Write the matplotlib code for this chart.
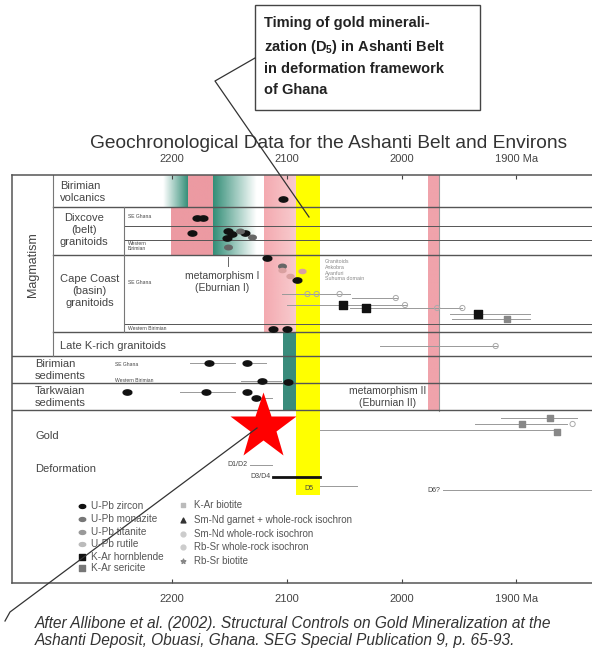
import matplotlib
matplotlib.use('Agg')
import matplotlib.pyplot as plt
import numpy as np
from matplotlib.patches import Rectangle
from matplotlib.colors import to_rgb

plt.rcParams['font.family'] = ['Liberation Sans', 'DejaVu Sans']
plt.rcParams['mathtext.fontset'] = 'custom'
plt.rcParams['mathtext.rm'] = 'Liberation Sans'
plt.rcParams['mathtext.bf'] = 'Liberation Sans:bold'

# age axis (Ma)
ticks = [2200, 2100, 2000, 1900]
tick_labels = ['2200', '2100', '2000', '1900 Ma']

# row separators: position below frame top, left end in Ma
sep_rows = [32, 51, 65, 80, 149, 157, 181, 208, 235]
sep_from = [2304, 2242, 2242, 2304, 2242, 2304, 2340, 2340, 2340]

# U-Pb zircon ages
zircon_age = [2103, 2178, 2173, 2183, 2151, 2148, 2136, 2152, 2117, 2091,
              2112, 2100, 2168, 2135, 2122, 2099, 2239, 2170, 2135, 2127]
zircon_row = [24, 43, 43, 58, 56, 59, 58, 63, 83, 105,
              154, 154, 188, 188, 206, 207, 217, 217, 217, 223]

# U-Pb monazite / titanite ages
monazite_age = [2141, 2104, 2151, 2130]
monazite_row = [56, 91, 72, 62]
titanite_age = [2104, 2087, 2097]
titanite_row = [95, 96, 101]

# K-Ar hornblende and sericite ages
hbl_age = [2051, 2031, 1933]
hbl_row = [130, 133, 139]
ser_age = [1908, 1871, 1895, 1865]
ser_row = [144, 243, 249, 257]

# whole-rock isochrons
iso_age = [2082, 2074, 2054, 2005, 1997, 1969, 1947, 1918, 1851]
iso_row = [119, 119, 119, 123, 130, 133, 133, 171, 249]

# error ranges: row, older limit, younger limit
err_row = [119, 123, 130, 133, 139, 144, 171, 188, 188, 206, 217, 223, 243, 249, 255]
err_old = [2104, 2043, 2100, 2045, 1958, 1956, 2019, 2184, 2135, 2140, 2193, 2127, 1913, 1936, 2071]
err_young = [2045, 2004, 1995, 1947, 1888, 1888, 1917, 2145, 2118, 2105, 2145, 2113, 1847, 1856, 1868]

# deformation events
def_labels = ['D1/D2', 'D3/D4', 'D5', 'D6?']
def_old = [2132, 2112, 2071, 1964]
def_young = [2113, 2071, 2039, 1834]
def_row = [290, 302, 311, 315]

# age of gold mineralization marker
gold_age = 2121

W, H = 592, 654
fig = plt.figure(figsize=(W / 100, H / 100), dpi=100)
ax = fig.add_axes([12 / W, 1 - 583 / H, 1 - 12 / W, (583 - 175) / H])
ax.set_xlim(2339.4, 1834.1)
ax.set_ylim(408, 0)


def shade(old, young, top, bottom, color, fade=None, strength=1.0):
    rgb = np.array(to_rgb(color))
    n = 64
    alpha = np.full(n, strength)
    if fade == 'left':
        alpha = np.linspace(0, strength, n)
    elif fade == 'right':
        alpha = np.linspace(strength, 0, n)
    img = np.zeros((1, n, 4))
    img[0, :, :3] = rgb
    img[0, :, 3] = alpha
    ax.imshow(img, extent=(old, young, bottom, top), aspect='auto',
              interpolation='bilinear', zorder=1)


shade(2208, 2186, 0, 32, '#2e8b74', fade='left')
shade(2165, 2126, 0, 81, '#2e8b74', fade='right')
shade(2186, 2165, 0, 81, '#ec9aa2')
shade(2201, 2186, 32, 81, '#ec9aa2')
shade(2120, 2092, 0, 158, '#f4aab0', fade='right', strength=1.0)
shade(2120, 2092, 0, 158, '#f4aab0', strength=0.6)
shade(2103, 2092, 158, 236, '#3a8c7c')
shade(1977, 1967, 0, 236, '#f0a3ab')
ax.add_patch(Rectangle((2071, 0), 21, 320, facecolor='#ffff00',
                       edgecolor='none', zorder=1.5))
ax.plot([1967, 1967], [0, 236], color='#999999', lw=0.8, zorder=2)

for r, a0 in zip(sep_rows, sep_from):
    lw = 1.0 if a0 > 2300 else 0.7
    ax.plot([a0, 1834.1], [r, r], color='#555555', lw=lw, zorder=2)
ax.plot([2304, 2304], [0, 181], color='#777777', lw=0.8, zorder=2)
ax.plot([2242, 2242], [32, 157], color='#777777', lw=0.8, zorder=2)

for r, a0, a1 in zip(err_row, err_old, err_young):
    ax.plot([a0, a1], [r, r], color='#999999', lw=0.7, zorder=3)

ell = np.c_[np.cos(np.linspace(0, 2 * np.pi, 30)),
            0.6 * np.sin(np.linspace(0, 2 * np.pi, 30))]
ax.scatter(zircon_age, zircon_row, marker=ell, s=40, color='#111111', zorder=4)
ax.scatter(monazite_age, monazite_row, marker=ell, s=30, color='#666666', zorder=4)
ax.scatter(titanite_age, titanite_row, marker=ell, s=25, color='#d9a0a0', zorder=4)
ax.scatter(hbl_age, hbl_row, marker='s', s=30, color='#111111', zorder=4)
ax.scatter(ser_age, ser_row, marker='s', s=22, color='#888888', zorder=4)
ax.scatter(iso_age, iso_row, marker='o', s=14, facecolor='none',
           edgecolor='#aaaaaa', lw=0.7, zorder=4)

for lab, a0, a1, r in zip(def_labels, def_old, def_young, def_row):
    lw = 2.0 if lab == 'D3/D4' else 0.7
    col = '#111111' if lab == 'D3/D4' else '#999999'
    ax.plot([a0, a1], [r, r], color=col, lw=lw, zorder=3)
    if lab == 'D5':
        ax.text(a0 + 10, r + 2, lab, fontsize=5, color='#444444',
                ha='center', va='center', zorder=5)
    else:
        ax.text(a0 + 2, r, lab, fontsize=5, color='#444444',
                ha='right', va='center', zorder=5)

# gold timing marker
ax.plot([gold_age], [252], marker='*', ms=50, color='#ff0000', mec='none', zorder=6)

ax.set_xticks(ticks, tick_labels)
ax.set_yticks([])
ax.tick_params(axis='x', direction='in', length=3, top=True, labeltop=True,
               labelsize=8, colors='#444444', pad=8)
for side in ['left', 'top', 'bottom']:
    ax.spines[side].set_color('#555555')
    ax.spines[side].set_linewidth(1.1)
ax.spines['right'].set_visible(False)

# overlay in pixel units for labels, legend and callouts
ov = fig.add_axes([0, 0, 1, 1], zorder=5)
ov.set_xlim(0, W)
ov.set_ylim(H, 0)
ov.axis('off')
ov.patch.set_alpha(0)

ov.text(329, 143, 'Geochronological Data for the Ashanti Belt and Environs',
        ha='center', va='center', fontsize=13.8, color='#333333')

lab_kw = dict(fontsize=8, color='#444444', va='center', linespacing=1.25)
ov.text(33, 265, 'Magmatism', rotation=90, ha='center', va='center',
        fontsize=9, color='#444444')
ov.text(60, 192, 'Birimian\nvolcanics', ha='left', **lab_kw)
ov.text(60, 230, 'Dixcove\n(belt)\ngranitoids', ha='left',
        multialignment='center', **lab_kw)
ov.text(60, 291, 'Cape Coast\n(basin)\ngranitoids', ha='left',
        multialignment='center', **lab_kw)
ov.text(60, 346, 'Late K-rich granitoids', ha='left', **lab_kw)
ov.text(35, 370, 'Birimian\nsediments', ha='left', **lab_kw)
ov.text(35, 397, 'Tarkwaian\nsediments', ha='left', **lab_kw)
ov.text(35, 436, 'Gold', ha='left', **lab_kw)
ov.text(35, 469, 'Deformation', ha='left', **lab_kw)

sub_kw = dict(fontsize=3.6, color='#444444', va='center', ha='left')
ov.text(128, 216, 'SE Ghana', **sub_kw)
ov.text(128, 246, 'Western\nBirimian', **sub_kw)
ov.text(128, 283, 'SE Ghana', **sub_kw)
ov.text(128, 328, 'Western Birimian', **sub_kw)
ov.text(115, 364, 'SE Ghana', **sub_kw)
ov.text(115, 381, 'Western Birimian', **sub_kw)
ov.text(325, 259, 'Granitoids\nAnkobra\nAyanfuri\nSuhuma domain', fontsize=3.8,
        color='#888888', va='top', ha='left')

ov.plot([228, 228], [257, 266], color='#666666', lw=0.7)
ov.text(222, 282, 'metamorphism I\n(Eburnian I)', ha='center', va='center',
        fontsize=7.5, color='#444444')
ov.text(388, 397, 'metamorphism II\n(Eburnian II)', ha='center', va='center',
        fontsize=7.5, color='#444444')

# legend
leg1 = ['U-Pb zircon', 'U-Pb monazite', 'U-Pb titanite', 'U-Pb rutile',
        'K-Ar hornblende', 'K-Ar sericite']
leg1_y = [506, 519, 532, 544, 557, 568]
leg1_col = ['#111111', '#777777', '#999999', '#bbbbbb', '#111111', '#777777']
leg1_mk = [ell, ell, ell, ell, 's', 's']
for t, y, c, m in zip(leg1, leg1_y, leg1_col, leg1_mk):
    ov.scatter([82], [y], marker=m, s=22, color=c)
    ov.text(91, y, t, fontsize=7.2, color='#555555', va='center')
leg2 = ['K-Ar biotite', 'Sm-Nd garnet + whole-rock isochron',
        'Sm-Nd whole-rock isochron', 'Rb-Sr whole-rock isochron', 'Rb-Sr biotite']
leg2_y = [505, 520, 534, 547, 561]
leg2_mk = ['s', '^', 'o', 'o', '*']
leg2_col = ['#bbbbbb', '#333333', '#cccccc', '#cccccc', '#888888']
for t, y, c, m in zip(leg2, leg2_y, leg2_col, leg2_mk):
    ov.scatter([183], [y], marker=m, s=12, color=c)
    ov.text(194, y, t, fontsize=7.0, color='#555555', va='center')

# callout box
ov.add_patch(Rectangle((255, 5), 225, 105, facecolor='white',
                       edgecolor='#444444', lw=1.0))
ov.text(264, 16, 'Timing of gold minerali-\nzation ($\\mathbf{D_5}$) in Ashanti Belt\n'
        'in deformation framework\nof Ghana', ha='left', va='top',
        fontsize=10.5, fontweight='bold', color='#222222', linespacing=1.6)
ov.plot([255, 215, 309], [58, 81, 217], color='#333333', lw=0.9)
ov.plot([257, 10, 5], [428, 612, 621], color='#333333', lw=0.9)

ov.text(35, 632, 'After Allibone et al. (2002). Structural Controls on Gold '
        'Mineralization at the\nAshanti Deposit, Obuasi, Ghana. SEG Special '
        'Publication 9, p. 65-93.', ha='left', va='center', fontsize=11.2,
        fontstyle='italic', color='#333333', linespacing=1.2)

fig.savefig('out.png', dpi=100)
